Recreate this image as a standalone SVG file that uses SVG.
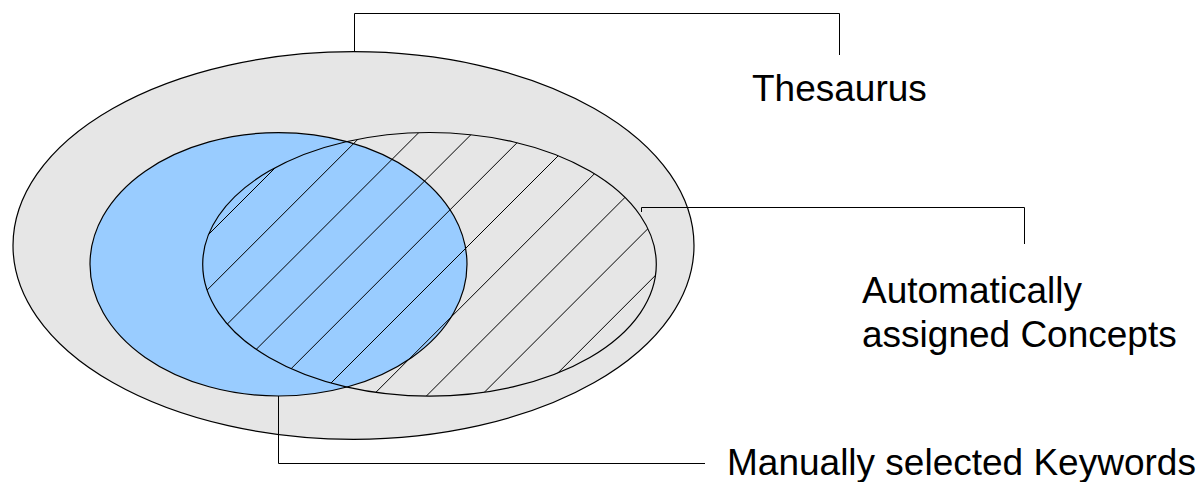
<svg xmlns="http://www.w3.org/2000/svg" width="1201" height="482" viewBox="0 0 1201 482">
  <style>
    .shape { stroke: #000; stroke-width: 1.2; }
    .conn { fill: none; stroke: #000; stroke-width: 1; }
    .hatch { stroke: #000; stroke-width: 1; }
    .label { font-family: "Liberation Sans", Arial, sans-serif; font-size: 37px; fill: #000; }
  </style>
  <defs>
    <clipPath id="conceptsClip">
      <ellipse cx="429.5" cy="264.3" rx="226.8" ry="131.8"/>
    </clipPath>
  </defs>
  <rect width="1201" height="482" fill="#ffffff"/>
  <g id="thesaurus">
    <ellipse class="shape" cx="353.5" cy="245.5" rx="340.5" ry="193.8" fill="#e6e6e6"/>
    <text class="label" x="752" y="100.5">Thesaurus</text>
  </g>
  <g id="keywords">
    <ellipse class="shape" cx="278.5" cy="264.3" rx="188.5" ry="131.7" fill="#99ccff"/>
    <text class="label" x="727" y="475">Manually selected Keywords</text>
  </g>
  <g id="concepts">
    <g clip-path="url(#conceptsClip)" class="hatch">
      <line x1="150" y1="293" x2="700" y2="-257"/>
      <line x1="150" y1="347.2" x2="700" y2="-202.8"/>
      <line x1="150" y1="401.4" x2="700" y2="-148.6"/>
      <line x1="150" y1="455.6" x2="700" y2="-94.4"/>
      <line x1="150" y1="509.8" x2="700" y2="-40.2"/>
      <line x1="150" y1="564" x2="700" y2="14"/>
      <line x1="150" y1="618.2" x2="700" y2="68.2"/>
      <line x1="150" y1="672.4" x2="700" y2="122.4"/>
      <line x1="150" y1="726.6" x2="700" y2="176.6"/>
      <line x1="150" y1="780.8" x2="700" y2="230.8"/>
    </g>
    <ellipse class="shape" cx="429.5" cy="264.3" rx="226.8" ry="131.8" fill="none"/>
    <text class="label" x="862" y="302.5">Automatically</text>
    <text class="label" x="862" y="346.5">assigned Concepts</text>
  </g>
  <g id="connectors">
    <polyline class="conn" points="354.5,51.7 354.5,13.5 839.5,13.5 839.5,55"/>
    <polyline class="conn" points="641.5,212 641.5,207.5 1024.5,207.5 1024.5,244"/>
    <polyline class="conn" points="278.5,396 278.5,463.5 705,463.5"/>
  </g>
</svg>
